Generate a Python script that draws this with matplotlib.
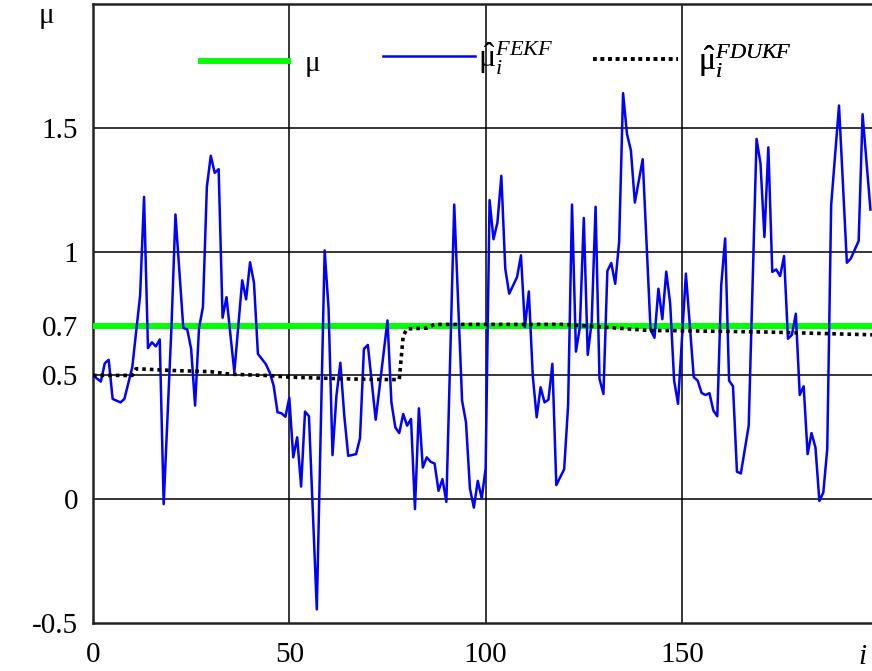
import matplotlib
matplotlib.use('Agg')
import matplotlib.pyplot as plt

plt.rcParams['font.family'] = ['Liberation Serif', 'DejaVu Serif']
plt.rcParams['mathtext.fontset'] = 'custom'
plt.rcParams['mathtext.rm'] = 'Liberation Serif'
plt.rcParams['mathtext.it'] = 'Liberation Serif:italic'

# true value of mu
mu_true = 0.7

# FEKF estimate (corners of the curve)
fekf_i = [0, 2, 3, 4, 5, 7, 8, 10, 12, 13, 14, 15, 16, 17, 18, 20, 21, 23, 24, 25,
          26, 27, 28, 29, 30, 31, 32, 33, 34, 36, 38, 39, 40, 41, 42, 44, 45, 46, 47, 48,
          49, 50, 51, 52, 53, 54, 55, 57, 59, 60, 61, 62, 63, 64, 65, 67, 68, 69, 70, 72,
          75, 76, 77, 78, 79, 80, 81, 82, 83, 84, 85, 86, 87, 88, 89, 90, 92, 94, 95, 96,
          97, 98, 99, 100, 101, 102, 103, 104, 105, 106, 108, 109, 110, 111, 112, 113, 114, 115, 116, 117,
          118, 120, 121, 122, 123, 124, 125, 126, 127, 128, 129, 130, 131, 132, 133, 134, 135, 136, 137, 138,
          140, 142, 143, 144, 145, 146, 147, 148, 149, 151, 153, 154, 155, 156, 157, 158, 159, 160, 161, 162,
          163, 164, 165, 167, 169, 170, 171, 172, 173, 174, 175, 176, 177, 178, 179, 180, 181, 182, 183, 184,
          185, 186, 187, 188, 190, 192, 193, 195, 196, 198]
fekf_mu = [0.50, 0.475, 0.549, 0.563, 0.405, 0.391, 0.405, 0.533, 0.823, 1.221, 0.610, 0.634, 0.617, 0.645, -0.020, 0.702, 1.150, 0.691, 0.686, 0.607,
           0.378, 0.691, 0.776, 1.262, 1.387, 1.318, 1.333, 0.733, 0.816, 0.513, 0.884, 0.807, 0.957, 0.874, 0.587, 0.546, 0.512, 0.459, 0.351, 0.347,
           0.333, 0.41, 0.169, 0.250, 0.051, 0.354, 0.335, -0.445, 1.005, 0.769, 0.178, 0.418, 0.551, 0.337, 0.175, 0.182, 0.246, 0.607, 0.623, 0.321,
           0.722, 0.391, 0.290, 0.267, 0.344, 0.297, 0.324, -0.040, 0.367, 0.128, 0.169, 0.151, 0.144, 0.034, 0.081, -0.011, 1.19, 0.398, 0.310, 0.043,
           -0.034, 0.074, 0.003, 0.125, 1.208, 1.050, 1.117, 1.306, 0.931, 0.830, 0.897, 0.985, 0.695, 0.839, 0.499, 0.331, 0.452, 0.391, 0.402, 0.547,
           0.057, 0.121, 0.378, 1.190, 0.596, 0.695, 1.136, 0.583, 0.715, 1.181, 0.486, 0.425, 0.922, 0.954, 0.870, 1.040, 1.640, 1.475, 1.408, 1.198,
           1.373, 0.684, 0.652, 0.850, 0.727, 0.919, 0.790, 0.48, 0.385, 0.911, 0.493, 0.479, 0.429, 0.421, 0.428, 0.358, 0.335, 0.864, 1.053, 0.479,
           0.456, 0.111, 0.104, 0.297, 1.455, 1.356, 1.059, 1.421, 0.918, 0.928, 0.901, 0.982, 0.648, 0.664, 0.749, 0.421, 0.456, 0.182, 0.267, 0.209,
           -0.007, 0.027, 0.202, 1.188, 1.590, 0.955, 0.972, 1.043, 1.555, 1.17]

# FDUKF estimate
fdukf_i = [0, 10, 11, 20, 30, 35, 45, 50, 60, 70, 78, 79, 80, 85, 87, 120, 130, 142, 147, 172, 198.4]
fdukf_mu = [0.50, 0.50, 0.527, 0.52, 0.515, 0.505, 0.499, 0.493, 0.488, 0.484, 0.483, 0.66, 0.688, 0.691, 0.706, 0.706, 0.695, 0.681, 0.681, 0.675, 0.664]

x_ticks = [0, 50, 100, 150]
y_ticks = [-0.5, 0, 0.5, 0.7, 1, 1.5]
y_labels = ['-0.5', '0', '0.5', '0.7', '1', '1.5']

fs = 21

fig = plt.figure(figsize=(8.72, 6.71), dpi=100)
ax = fig.add_axes([93 / 872, 48 / 671, 1 - 93 / 872, 619 / 671])

g, = ax.plot([0, 198.4], [mu_true, mu_true], color='#00ff00', lw=4.3, zorder=3, solid_capstyle='butt')
b, = ax.plot(fekf_i, fekf_mu, color='#0000ff', lw=1.8, zorder=4)
d, = ax.plot(fdukf_i, fdukf_mu, color='black', lw=2.6, ls=(0, (1, 1.1)), zorder=5)

ax.set_xlim(0, 198.4)
ax.set_ylim(-0.5, 2.0)
ax.set_xticks(x_ticks)
ax.set_xticklabels([str(t) for t in x_ticks])
ax.set_yticks(y_ticks)
ax.set_yticklabels(y_labels)
ax.tick_params(length=0, labelsize=fs)
ax.tick_params(axis='y', pad=10.5)
ax.tick_params(axis='x', pad=14)

for t in [50, 100, 150]:
    ax.axvline(t, color='black', lw=1.1, zorder=1)
for t in [0, 0.5, 1, 1.5]:
    ax.axhline(t, color='black', lw=1.1, zorder=1)

ax.spines['right'].set_visible(False)
for s in ['left', 'bottom', 'top']:
    ax.spines[s].set_linewidth(1.8)
    ax.spines[s].set_color('#222222')

fig.text(46 / 872, 1 - 16 / 671, 'μ', fontsize=fs, ha='center', va='center')
fig.text(862 / 872, 1 - 657 / 671, 'i', fontsize=fs, style='italic', ha='center', va='center')

# legend, one entry at a time so each sits where it does in the picture
entries = [
    (g, 'μ', 198, 64, 3.2, 0.45, fs),
    (b, r'$\hat{\mathrm{μ}}_{i}^{FEKF}$', 383, 58, 3.15, 0.1, fs + 2),
    (d, r'$\hat{\mathrm{μ}}_{i}^{FDUKF}$', 593, 61, 2.9, 0.7, fs + 2),
]
for h, lab, px, py, hl, tp, lfs in entries:
    lg = ax.legend([h], [lab], loc='center left', bbox_to_anchor=(px / 872, 1 - py / 671),
                   bbox_transform=fig.transFigure, frameon=False, fontsize=lfs,
                   handlelength=hl * fs / lfs, handletextpad=tp * fs / lfs,
                   borderpad=0, borderaxespad=0)
    ax.add_artist(lg)

fig.savefig('out.png', dpi=100)
